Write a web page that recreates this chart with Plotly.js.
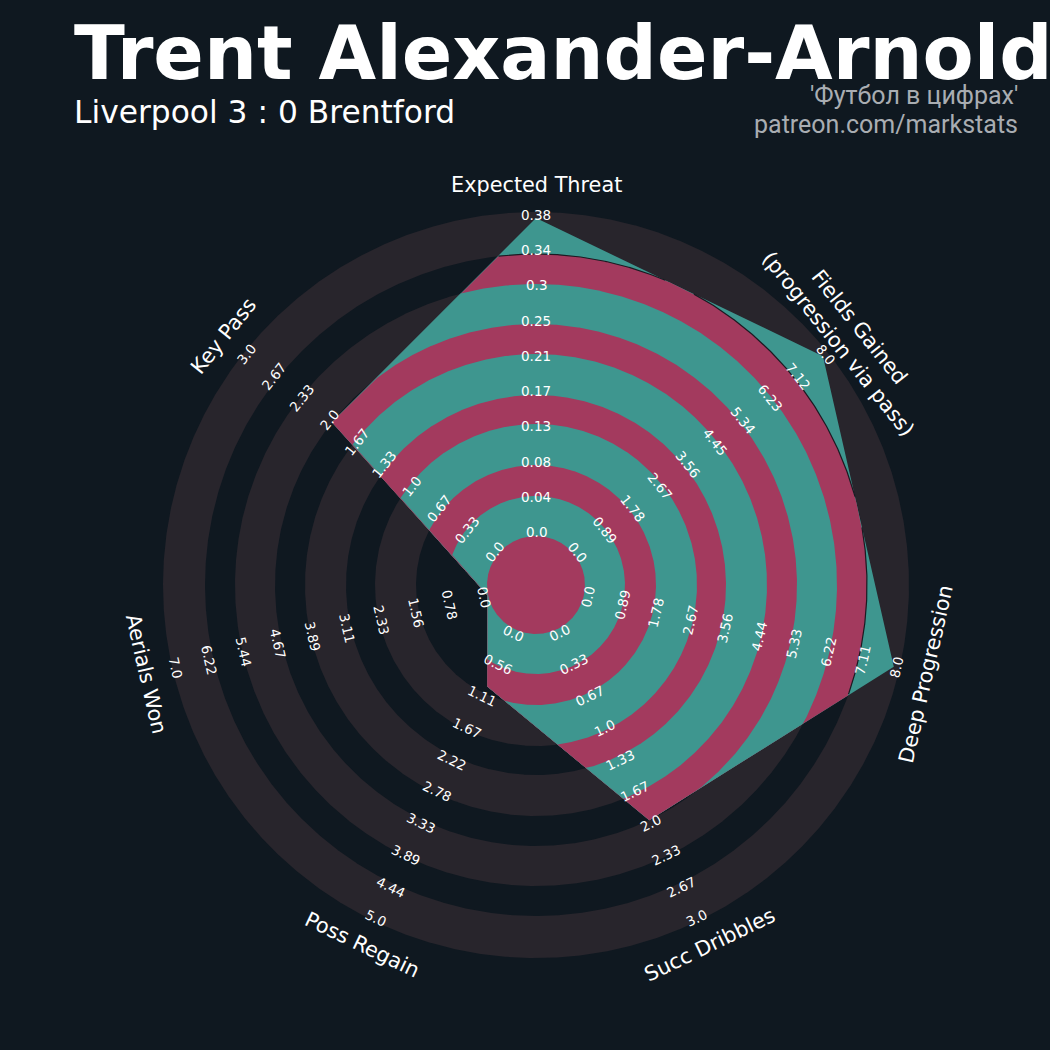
<!DOCTYPE html>
<html><head><meta charset="utf-8">
<script src="https://cdn.plot.ly/plotly-3.0.1.min.js"></script>
<style>html,body{margin:0;padding:0;background:#0f1820;overflow:hidden}</style>
</head><body><div id="chart" style="width:1050px;height:1050px"></div>
<script>
// ---------------- data ----------------
const params = ['Expected Threat', 'Fields Gained<br>(progression via pass)', 'Deep Progression',
                'Succ Dribbles', 'Poss Regain', 'Aerials Won', 'Key Pass'];
const minRange = [0, 0, 0, 0, 0, 0, 0];
const maxRange = [0.38, 8.0047, 8.0, 3.0, 5.0, 7.0, 3.0];
const values   = [0.38, 8.0047, 8.0, 2.0, 1.0, 0.0, 2.0];
const labelsExpectedThreat = ['0.0','0.04','0.08','0.13','0.17','0.21','0.25','0.3','0.34','0.38'];
const labelsFieldsGained   = ['0.0','0.89','1.78','2.67','3.56','4.45','5.34','6.23','7.12','8.0'];
const labelsDeepProgression= ['0.0','0.89','1.78','2.67','3.56','4.44','5.33','6.22','7.11','8.0'];
const labelsSuccDribbles   = ['0.0','0.33','0.67','1.0','1.33','1.67','2.0','2.33','2.67','3.0'];
const labelsPossRegain     = ['0.0','0.56','1.11','1.67','2.22','2.78','3.33','3.89','4.44','5.0'];
const labelsAerialsWon     = ['0.0','0.78','1.56','2.33','3.11','3.89','4.67','5.44','6.22','7.0'];
const labelsKeyPass        = ['0.0','0.33','0.67','1.0','1.33','1.67','2.0','2.33','2.67','3.0'];
const ringLabels = [labelsExpectedThreat, labelsFieldsGained, labelsDeepProgression,
                    labelsSuccDribbles, labelsPossRegain, labelsAerialsWon, labelsKeyPass];
const titleText = 'Trent Alexander-Arnold';
const subtitleText = 'Liverpool 3 : 0 Brentford';
const creditLine1 = "'Футбол в цифрах'";
const creditLine2 = 'patreon.com/markstats';

// ---------------- geometry / style ----------------
const W = 1050, H = 1050, CX = 536, CY = 585;
const RADAR_R0 = 49, RADAR_R1 = 367;
const RING_EDGES = [49, 89, 120, 161, 190, 231, 261, 301, 331, 373];
const LABEL_R0 = 53, LABEL_R1 = 370, PARAM_R = 400;
const BG = '#0f1820', GREY = '#28252c', TEAL = '#3e968f', PINK = '#a33a5e';
const FONT = 'DejaVu Sans, sans-serif';

const n = params.length;
const rad = d => d * Math.PI / 180;
const thetas = params.map((_, i) => 90 - i * 360 / n);
const vr = values.map((v, i) => RADAR_R0 + (RADAR_R1 - RADAR_R0) * (v - minRange[i]) / (maxRange[i] - minRange[i]));
const P = vr.map((r, i) => [r * Math.cos(rad(thetas[i])), r * Math.sin(rad(thetas[i]))]);

function radial(thDeg) {
  const d = [Math.cos(rad(thDeg)), Math.sin(rad(thDeg))];
  let best = Infinity;
  for (let i = 0; i < n; i++) {
    const A = P[i], B = P[(i + 1) % n];
    const E = [B[0] - A[0], B[1] - A[1]];
    const den = d[0] * E[1] - d[1] * E[0];
    if (Math.abs(den) < 1e-12) continue;
    const t = (A[0] * E[1] - A[1] * E[0]) / den;
    const s = (A[0] * d[1] - A[1] * d[0]) / den;
    if (t > 0 && s >= -1e-9 && s <= 1 + 1e-9 && t < best) best = t;
  }
  return best;
}
let samp = [];
for (let a = 90; a > -270; a -= 0.25) samp.push(a);
thetas.forEach(t => samp.push(t));
samp = Array.from(new Set(samp.map(a => +a.toFixed(6)))).sort((a, b) => b - a);
const Rs = samp.map(radial);

function discTrace(rho, color) {
  const x = [], y = [];
  samp.forEach(a => { x.push(rho * Math.cos(rad(a))); y.push(rho * Math.sin(rad(a))); });
  return {type: 'scatter', mode: 'lines', x, y, fill: 'toself', fillcolor: color,
          line: {width: 0, color: color}, hoverinfo: 'skip', showlegend: false};
}
function clipTrace(rho, color) {
  const x = [], y = [];
  samp.forEach((a, j) => { const r = Math.min(rho, Rs[j]); x.push(r * Math.cos(rad(a))); y.push(r * Math.sin(rad(a))); });
  return {type: 'scatter', mode: 'lines', x, y, fill: 'toself', fillcolor: color,
          line: {width: 0, color: color}, hoverinfo: 'skip', showlegend: false};
}

const traces = [];
// background rings
const bgColors = [GREY, BG, GREY, BG, GREY, BG, GREY, BG];
for (let k = 0; k < bgColors.length; k++) traces.push(discTrace(RING_EDGES[RING_EDGES.length - 1 - k], bgColors[k]));
// radar polygon
traces.push({type: 'scatter', mode: 'lines', x: P.map(p => p[0]).concat([P[0][0]]), y: P.map(p => p[1]).concat([P[0][1]]),
  fill: 'toself', fillcolor: TEAL, line: {width: 0, color: TEAL}, hoverinfo: 'skip', showlegend: false});
// rings inside polygon
for (let k = RING_EDGES.length - 2; k >= 0; k--) {
  const col = (k % 2 === 0) ? PINK : TEAL;
  traces.push(clipTrace(RING_EDGES[k], col));
}
// thin edge on outer pink ring
{
  const rho = RING_EDGES[RING_EDGES.length - 2];
  const x = [], y = [];
  samp.forEach((a, j) => {
    if (Rs[j] > rho) { x.push(rho * Math.cos(rad(a))); y.push(rho * Math.sin(rad(a))); }
    else { x.push(null); y.push(null); }
  });
  traces.push({type: 'scatter', mode: 'lines', x, y, line: {width: 1.2, color: '#1c1a22'}, hoverinfo: 'skip', showlegend: false});
}

function rotFor(th) {
  let r = th - 90;
  while (r <= -90) r += 180;
  while (r > 90) r -= 180;
  return -r;
}
const annotations = [];
for (let i = 0; i < n; i++) {
  const th = thetas[i], ang = rotFor(th);
  for (let k = 0; k < 10; k++) {
    const r = LABEL_R0 + (LABEL_R1 - LABEL_R0) * k / 9;
    annotations.push({x: r * Math.cos(rad(th)), y: r * Math.sin(rad(th)), xref: 'x', yref: 'y',
      text: ringLabels[i][k], showarrow: false, textangle: ang, xanchor: 'center', yanchor: 'middle',
      font: {family: FONT, size: 13.5, color: '#ffffff'}});
  }
  annotations.push({x: PARAM_R * Math.cos(rad(th)), y: PARAM_R * Math.sin(rad(th)), xref: 'x', yref: 'y',
    text: params[i], showarrow: false, textangle: ang, xanchor: 'center', yanchor: 'middle', align: 'center',
    font: {family: FONT, size: 20.8, color: '#ffffff'}});
}
annotations.push({xref: 'paper', yref: 'paper', x: 72 / W, y: 1 - 54 / H, xanchor: 'left', yanchor: 'middle',
  text: titleText, showarrow: false, font: {family: FONT, size: 74.5, color: '#ffffff', weight: 'bold'}});
annotations.push({xref: 'paper', yref: 'paper', x: 72 / W, y: 1 - 112 / H, xanchor: 'left', yanchor: 'middle',
  text: subtitleText, showarrow: false, font: {family: FONT, size: 31.3, color: '#ffffff'}});
annotations.push({xref: 'paper', yref: 'paper', x: 1020 / W, y: 1 - 96 / H, xanchor: 'right', yanchor: 'middle',
  text: creditLine1, showarrow: false, font: {family: 'Roboto, sans-serif', size: 25, color: '#a9adb2'}});
annotations.push({xref: 'paper', yref: 'paper', x: 1020 / W, y: 1 - 124 / H, xanchor: 'right', yanchor: 'middle',
  text: creditLine2, showarrow: false, font: {family: 'Roboto, sans-serif', size: 25, color: '#a9adb2'}});

const layout = {
  width: W, height: H, margin: {l: 0, r: 0, t: 0, b: 0, pad: 0},
  paper_bgcolor: BG, plot_bgcolor: BG, showlegend: false,
  xaxis: {range: [-CX, W - CX], visible: false, fixedrange: true, domain: [0, 1]},
  yaxis: {range: [-(H - CY), CY], visible: false, fixedrange: true, domain: [0, 1]},
  annotations
};
Plotly.newPlot('chart', traces, layout, {displayModeBar: false, staticPlot: true});
</script></body></html>
